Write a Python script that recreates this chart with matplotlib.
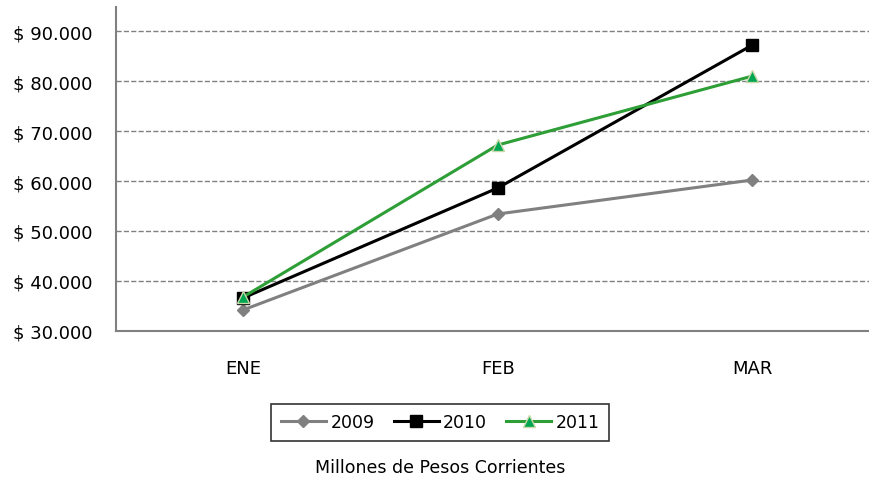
import matplotlib.pyplot as plt

meses = ['ENE', 'FEB', 'MAR']
v2009 = [34200, 53400, 60200]
v2010 = [36600, 58600, 87200]
v2011 = [36800, 67200, 81000]

fig = plt.figure(figsize=(8.7, 4.81), dpi=100)
ax = fig.add_axes([0.1333, 0.31, 0.8667, 0.673])

x = range(len(meses))
ax.plot(x, v2009, color='#808080', lw=2.2, marker='D', ms=6, mfc='#808080', mec='#808080', label='2009')
ax.plot(x, v2010, color='black', lw=2.2, marker='s', ms=9, mfc='black', mec='black', label='2010')
ax.plot(x, v2011, color='#2E9E36', lw=2.2, marker='^', ms=9, mfc='#00A651', mec='#C8D8A8', label='2011')

ax.set_xlim(-0.5, 2.463)
ax.set_ylim(30000, 94800)
ax.set_yticks([30000, 40000, 50000, 60000, 70000, 80000, 90000])
ax.set_yticklabels(['$ {:,}'.format(v).replace(',', '.') for v in range(30000, 90001, 10000)])
ax.set_xticks(list(x))
ax.set_xticklabels(meses)
ax.tick_params(axis='both', length=0, labelsize=13)
ax.tick_params(axis='y', pad=17)
ax.tick_params(axis='x', pad=20)

ax.grid(axis='y', linestyle='--', color='#808080', lw=1)
ax.set_axisbelow(True)
for s in ['top', 'right']:
    ax.spines[s].set_visible(False)
for s in ['left', 'bottom']:
    ax.spines[s].set_color('#808080')
    ax.spines[s].set_linewidth(1.5)

leg = fig.legend(loc='center', bbox_to_anchor=(0.506, 0.12), ncol=3, fontsize=12.5,
                 frameon=True, fancybox=False, edgecolor='black', handlelength=2.6,
                 columnspacing=1.1, handletextpad=0.25, borderpad=0.55, borderaxespad=0)
leg.get_frame().set_linewidth(1.2)

fig.text(0.506, 0.027, 'Millones de Pesos Corrientes', ha='center', va='center', fontsize=12.5)

fig.savefig('out.png', dpi=100)
